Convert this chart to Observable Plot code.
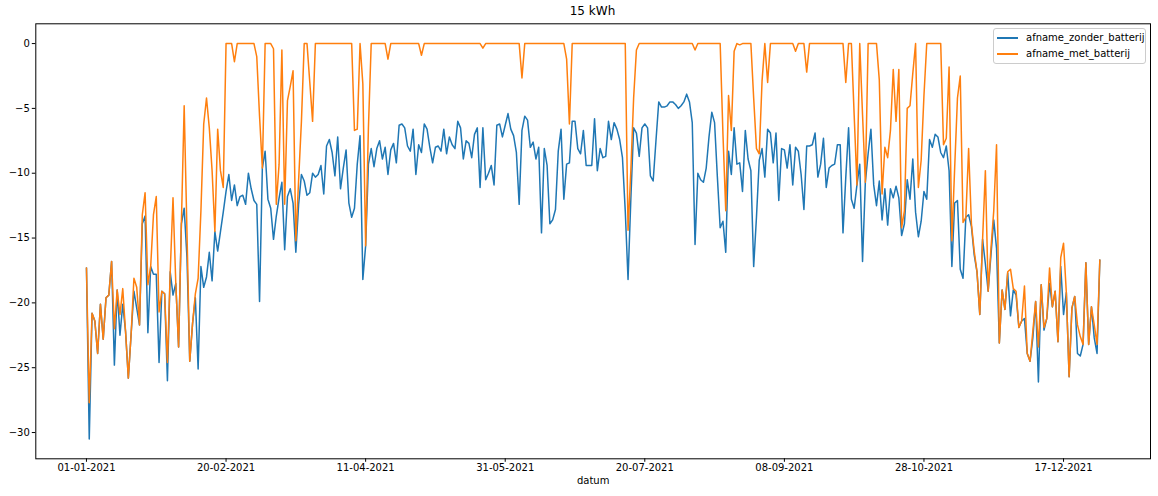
<!DOCTYPE html>
<html>
<head>
<meta charset="utf-8">
<script src="https://cdn.jsdelivr.net/npm/d3@7"></script>
<script src="https://cdn.jsdelivr.net/npm/@observablehq/plot@0.6"></script>
<style>
  body { margin: 0; background: #fff; font-family: "DejaVu Sans", sans-serif; }
  #wrap { position: relative; width: 1158px; height: 496px; }
  #titel { height: 22px; line-height: 23px; font-size: 12px; color: #000;
           padding-left: 35px; width: 1115px; text-align: center; }
  #legenda { position: absolute; left: 993px; top: 28px; width: 151px; height: 34px;
             border: 1px solid #ccc; border-radius: 3px; background: rgba(255,255,255,0.8);
             font-size: 10px; color: #000; }
  .rij { position: absolute; left: 0; height: 14px; line-height: 14px; white-space: nowrap; }
  .rij i { position: absolute; left: 3px; top: 6px; width: 21px; height: 2px; }
  .rij span { position: absolute; left: 32px; top: 0; }
</style>
</head>
<body>
<div id="wrap">
  <div id="titel">15 kWh</div>
  <div id="chart"></div>
  <div id="legenda"></div>
</div>
<script>
const SERIES = ["afname_zonder_batterij", "afname_met_batterij"];
const KLEUREN = ["#1f77b4", "#ff7f0e"];

const TICK_POS = [0, 50, 100, 150, 200, 250, 300, 350];
const TICK_LABELS = ["01-01-2021", "20-02-2021", "11-04-2021", "31-05-2021",
                     "20-07-2021", "08-09-2021", "28-10-2021", "17-12-2021"];
const Y_TICKS = [0, -5, -10, -15, -20, -25, -30];

// dagwaarden (kWh), index 0 = 01-01-2021
const zonder = [
  -17.3, -30.5, -20.8, -21.4, -23.9, -20.1, -22.8, -19.6, -19.4, -16.8,
  -24.8, -19.0, -22.5, -20.1, -22.2, -25.8, -22.4, -19.1, -20.4, -21.7,
  -13.9, -13.3, -22.3, -17.2, -17.8, -17.8, -24.6, -19.1, -19.3, -26.0,
  -17.6, -19.4, -18.5, -23.4, -13.9, -12.7, -16.5, -24.5, -21.6, -19.6,
  -25.1, -17.2, -18.8, -18.0, -16.1, -18.3, -14.5, -16.0, -14.5, -13.0,
  -11.4, -10.1, -12.1, -10.9, -12.5, -11.8, -11.7, -12.4, -10.0, -11.2,
  -12.1, -12.4, -19.9, -9.6, -8.3, -12.0, -12.7, -15.1, -13.3, -11.9,
  -10.7, -15.9, -11.8, -11.2, -12.3, -16.1, -12.4, -10.1, -10.6, -11.7,
  -11.5, -10.0, -10.3, -10.1, -9.4, -11.6, -7.9, -7.4, -8.4, -10.2,
  -7.2, -11.2, -9.6, -8.2, -12.3, -13.4, -12.7, -9.3, -7.1, -18.2,
  -15.6, -9.3, -8.1, -9.5, -8.1, -7.5, -8.9, -8.0, -10.1, -8.2,
  -7.7, -9.2, -6.3, -6.2, -6.5, -7.9, -8.3, -6.6, -10.1, -7.8,
  -8.4, -6.2, -6.6, -8.0, -9.2, -8.0, -7.9, -8.3, -6.6, -8.5,
  -7.2, -7.8, -8.1, -6.0, -6.5, -8.9, -7.5, -7.7, -8.8, -7.0,
  -6.5, -11.1, -6.5, -10.5, -10.0, -9.4, -10.9, -6.3, -6.2, -7.2,
  -6.3, -5.4, -6.6, -7.1, -8.4, -12.4, -6.7, -5.6, -5.9, -8.0,
  -7.6, -8.9, -8.0, -14.6, -8.1, -9.4, -13.9, -13.6, -12.8, -8.3,
  -6.6, -12.0, -9.3, -9.2, -6.0, -6.0, -8.1, -8.5, -6.7, -9.4,
  -9.4, -9.4, -5.8, -9.8, -8.1, -8.8, -8.7, -6.0, -7.4, -6.1,
  -6.6, -7.4, -8.8, -12.9, -18.2, -12.0, -6.5, -6.9, -8.7, -6.5,
  -6.2, -6.5, -10.2, -10.6, -7.5, -4.5, -4.9, -4.9, -4.8, -4.5,
  -4.5, -4.7, -5.0, -4.8, -4.5, -3.9, -4.5, -6.1, -15.5, -10.0,
  -10.5, -10.7, -9.6, -7.2, -5.3, -6.1, -10.3, -14.2, -13.7, -16.1,
  -8.3, -10.1, -6.5, -9.3, -9.2, -11.4, -6.7, -8.9, -9.8, -17.2,
  -13.4, -9.0, -8.1, -10.3, -6.6, -6.9, -9.2, -6.9, -12.1, -8.1,
  -8.2, -9.6, -7.8, -10.9, -8.0, -8.3, -10.1, -12.8, -7.9, -7.9,
  -7.8, -6.9, -10.3, -9.3, -7.3, -11.1, -9.6, -9.4, -9.3, -7.8,
  -7.8, -14.6, -10.3, -6.5, -12.0, -12.7, -10.9, -9.3, -16.8, -10.7,
  -8.5, -6.6, -10.9, -12.5, -10.6, -13.6, -11.2, -14.0, -11.2, -11.9,
  -11.0, -11.9, -14.8, -13.9, -10.5, -12.0, -8.9, -13.0, -14.9, -13.7,
  -11.4, -12.0, -7.4, -8.0, -7.0, -7.2, -8.4, -8.8, -7.9, -9.8,
  -17.2, -12.3, -12.1, -17.4, -18.1, -13.4, -13.2, -14.1, -16.3, -17.6,
  -20.9, -15.1, -17.0, -19.1, -16.3, -13.6, -15.8, -23.1, -19.0, -20.5,
  -17.7, -21.0, -19.0, -19.4, -21.9, -21.4, -21.2, -23.9, -24.5, -22.7,
  -19.9, -26.1, -18.6, -22.1, -21.2, -18.5, -20.3, -19.1, -23.0, -17.2,
  -20.9, -19.2, -25.7, -20.4, -19.5, -23.9, -24.1, -23.2, -16.9, -23.2,
  -20.3, -22.7, -23.9, -16.7
];

const met = [
  -17.3, -27.7, -20.8, -21.4, -23.9, -20.1, -22.8, -19.6, -19.4, -16.8,
  -22.0, -19.0, -20.9, -18.9, -22.2, -25.8, -22.4, -18.1, -18.8, -21.7,
  -13.2, -11.5, -18.6, -17.2, -13.2, -11.8, -20.7, -19.1, -19.3, -24.6,
  -17.6, -11.9, -18.5, -23.4, -13.9, -4.8, -14.5, -24.5, -21.6, -19.3,
  -18.1, -12.9, -6.2, -4.2, -6.5, -9.8, -14.5, -6.6, -9.8, -11.1,
  0, 0, 0, -1.4, 0, 0, 0, 0, 0, 0,
  0, -1.0, -5.6, -9.6, 0, 0, 0, -0.4, -12.4, -9.3,
  -0.5, -12.4, -4.4, -3.3, -2.1, -15.2, -10.5, -6.0, 0, 0,
  -3.0, -6.0, 0, 0, 0, 0, 0, 0, 0, 0,
  0, 0, 0, 0, 0, 0, -6.7, -6.6, 0, -3.1,
  -15.6, -6.5, 0, 0, 0, 0, 0, 0, -1.2, 0,
  0, 0, 0, 0, 0, 0, 0, 0, 0, 0,
  -0.9, 0, 0, 0, 0, 0, 0, 0, 0, 0,
  0, 0, 0, 0, 0, 0, 0, 0, 0, 0,
  0, 0, -0.35, 0, 0, 0, 0, 0, 0, 0,
  0, 0, 0, 0, 0, 0, -2.65, 0, 0, 0,
  0, 0, 0, 0, 0, 0, 0, 0, 0, 0,
  0, 0, -1.2, -6.2, 0, 0, 0, 0, 0, 0,
  0, 0, 0, 0, 0, 0, 0, 0, 0, 0,
  0, 0, 0, 0, -14.4, -9.8, -4.2, -0.5, 0, 0,
  0, 0, 0, 0, 0, 0, 0, 0, 0, 0,
  0, 0, 0, 0, 0, 0, 0, 0, -0.5, 0,
  0, 0, 0, 0, 0, 0, 0, 0, -7.0, -12.9,
  -4.0, -6.7, -0.6, 0, -0.1, 0, 0, 0, 0, -4.2,
  -8.1, -8.5, -2.9, 0, -3.0, 0, 0, 0, 0, 0,
  0, 0, 0, 0, -0.6, 0, 0, 0, -2.2, 0,
  0, 0, 0, 0, 0, 0, 0, 0, 0, 0,
  0, 0, -3.0, 0, 0, -5.5, -10.9, 0, -5.5, -10.7,
  0, 0, 0, 0, -2.8, -11.6, -8.0, -8.8, -6.7, -2.0,
  -6.0, -2.0, -14.2, -12.9, -5.0, -4.8, -2.3, 0, -11.1, -9.0,
  -4.0, 0, 0, 0, 0, 0, 0, -7.8, -7.3, -1.8,
  -15.2, -9.6, -4.2, -2.5, -13.8, -13.4, -8.1, -13.9, -16.0, -17.6,
  -20.9, -15.1, -9.8, -19.1, -15.8, -12.9, -7.8, -23.1, -19.0, -20.5,
  -17.6, -17.4, -18.9, -19.1, -21.9, -21.4, -18.7, -23.9, -24.5, -22.2,
  -19.9, -23.4, -18.6, -21.9, -21.2, -17.3, -20.3, -19.1, -23.0, -16.5,
  -15.4, -19.2, -25.7, -20.4, -19.5, -21.7, -22.6, -23.2, -16.9, -23.2,
  -20.3, -21.7, -23.2, -16.7
];

const L = zonder.length - 1;
// matplotlib-achtige marges van 5%
const yMin = Math.min(...zonder, ...met), yMax = Math.max(...zonder, ...met);
const yPad = (yMax - yMin) * 0.05;

const chart = Plot.plot({
  width: 1158, height: 474,
  marginLeft: 35.3, marginRight: 8, marginTop: 1.3, marginBottom: 37.7,
  style: { background: "#fff", color: "#000", fontFamily: "DejaVu Sans, sans-serif", fontSize: "10px" },
  x: { domain: [-0.05 * L, 1.05 * L] },
  y: { domain: [yMin - yPad, yMax + yPad] },
  marks: [
    Plot.axisY({ ticks: Y_TICKS, tickSize: 3.5, tickPadding: 2.5, label: null, stroke: "#000" }),
    Plot.axisX({ ticks: TICK_POS, tickSize: 3.5, tickPadding: 2,
                 tickFormat: (d) => TICK_LABELS[TICK_POS.indexOf(d)], label: null, stroke: "#000" }),
    Plot.lineY(zonder, { stroke: KLEUREN[0], strokeWidth: 1.5 }),
    Plot.lineY(met, { stroke: KLEUREN[1], strokeWidth: 1.5 }),
    Plot.frame({ stroke: "#000", strokeWidth: 1 }),
    Plot.text(["datum"], { frameAnchor: "bottom", dy: 24.7, text: (d) => d, fontSize: 10 }),
  ],
});
document.getElementById("chart").appendChild(chart);

const leg = document.getElementById("legenda");
SERIES.forEach((naam, i) => {
  const rij = document.createElement("div");
  rij.className = "rij";
  rij.style.top = (2 + i * 16) + "px";
  rij.innerHTML = `<i style="background:${KLEUREN[i]}"></i><span>${naam}</span>`;
  leg.appendChild(rij);
});
</script>
</body>
</html>
